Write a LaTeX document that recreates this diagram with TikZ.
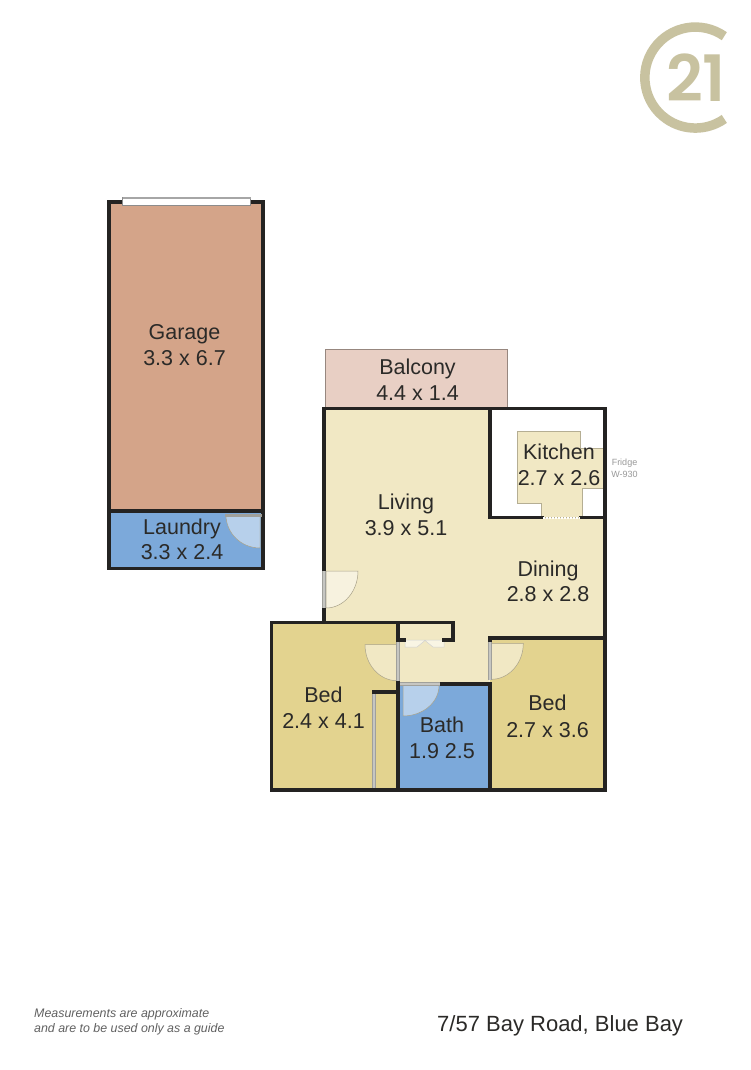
\documentclass[tikz,border=0pt]{standalone}
\usepackage{fontspec}
\setmainfont{Liberation Sans}
\newfontfamily\logofont[UprightFont={* SemiBold}]{Poppins}
\definecolor{wallc}{HTML}{242322}
\definecolor{livingc}{HTML}{F1E8C4}
\definecolor{bedc}{HTML}{E3D38F}
\definecolor{bathc}{HTML}{7CA9DA}
\definecolor{garagec}{HTML}{D4A489}
\definecolor{balconyc}{HTML}{E8CFC4}
\definecolor{logoc}{HTML}{C8C2A0}
\definecolor{txtc}{HTML}{2B2A28}
\definecolor{strip}{HTML}{A0A09B}
\definecolor{stripin}{HTML}{C6C6C2}
\tikzset{
  wall/.style={draw=wallc,line width=3.8pt,line cap=rect,line join=miter},
  doorstrip/.style={draw=strip,line width=0.9pt,double=stripin,double distance=1.9pt},
  doorleaf/.style={draw=black!30!livingc,line width=0.5pt,fill=#1},
  roomlabel/.style={font=\fontsize{21.5}{24}\selectfont,text=txtc,anchor=base,inner sep=0pt},
  smallgrey/.style={font=\fontsize{9}{10}\selectfont,text=black!40,anchor=base,inner sep=0pt},
  noteline/.style={font=\itshape\fontsize{12.4}{14}\selectfont,text=black!62,anchor=base west,inner sep=0pt}
}
\begin{document}
\begin{tikzpicture}[x=1pt,y=-1pt]
\useasboundingbox (0,0) rectangle (750,1070);
\fill[white] (0,0) rectangle (750,1070);

% logo
\draw[logoc,line width=9.5pt] (724.3,36.2) arc[start angle=-55,end angle=-305,radius=50.5];
\node[font=\logofont\fontsize{64}{64}\selectfont,text=logoc,anchor=base,inner sep=0pt] (logotext) at (696,102) {21};

% garage + laundry
\fill[garagec] (108.7,202) rectangle (263.3,511);
\fill[bathc] (108.7,511) rectangle (263.3,568.4);
\draw[doorleaf={bathc!55!white}] (226,515) -- (260,515) -- (260,548) arc[start angle=90,end angle=180,x radius=34,y radius=33];
\draw[wall] (108.7,202) rectangle (263.3,568.4);
\draw[wall] (108.7,511) -- (263.3,511);
\draw[strip,fill=strip] (225,514.5) rectangle (261,516.5);
\draw[draw=black!45,line width=0.8pt,fill=white] (122.7,197.6) rectangle (250.7,205.4);
\draw[draw=black!35,line width=1.5pt] (122.7,198) -- (250.7,198);

% balcony
\fill[balconyc,draw=black!35!balconyc,line width=0.8pt] (325.2,349.5) rectangle (507.7,407);

% main floors
\fill[livingc] (324,408.5) -- (489.7,408.5) -- (489.7,517.5) -- (605.3,517.5) -- (605.3,638) -- (489.7,638) -- (489.7,683.7) -- (398.3,683.7) -- (398.3,622.5) -- (324,622.5) -- cycle;
\fill[bedc] (271.5,622.5) -- (398.3,622.5) -- (398.3,790) -- (271.5,790) -- cycle;
\fill[bedc] (489.7,638) rectangle (605.3,790);
\fill[bathc] (398.3,683.7) rectangle (489.7,790);
\fill[white] (489.7,408.5) rectangle (605.3,517.5);
\draw[fill=livingc,draw=black!25!livingc,line width=0.6pt] (517.3,431) -- (580.7,431) -- (580.7,448.3) -- (603.5,448.3) -- (603.5,488.3) -- (582.7,488.3) -- (582.7,517) -- (541,517) -- (541,503.3) -- (517.3,503.3) -- cycle;

% door leaves
\draw[doorleaf={livingc!55!white}] (326,571) -- (358,571) arc[start angle=0,end angle=90,x radius=32,y radius=37] -- cycle;
\draw[doorleaf={livingc}] (397,644.7) -- (365,644.7) arc[start angle=180,end angle=90,x radius=32,y radius=36] -- cycle;
\draw[doorleaf={livingc}] (491.5,643.3) -- (523.3,643.3) arc[start angle=0,end angle=90,x radius=31.8,y radius=36] -- cycle;
\draw[doorleaf={bathc!55!white}] (403,685.5) -- (439,685.5) arc[start angle=0,end angle=90,x radius=36,y radius=30.5] -- cycle;
\draw[draw=black!18,line width=0.5pt,fill=livingc!45!white] (405,640) -- (444,640) -- (444,647) -- (433,647) -- (425,640.5) -- (417,647) -- (405,647) -- cycle;

% walls
\draw[wall] (324,570) -- (324,408.5) -- (605.3,408.5) -- (605.3,790) -- (271.5,790) -- (271.5,622.5) -- (453.3,622.5) -- (453.3,640) -- (444,640);
\draw[wall] (324,609) -- (324,622.5);
\draw[wall] (489.7,408.5) -- (489.7,517.5) -- (542,517.5);
\draw[wall] (581,517.5) -- (605.3,517.5);
\draw[wall] (398.3,622.5) -- (398.3,640) -- (404,640);
\draw[wall] (398.3,683) -- (398.3,790);
\draw[wall] (605.3,638) -- (489.7,638) -- (489.7,640);
\draw[wall] (440.5,683.7) -- (489.7,683.7) -- (489.7,790);
\draw[wall] (398.3,691.7) -- (373.8,691.7);

% openings
\draw[doorstrip] (324,571) -- (324,608);
\draw[doorstrip] (398.3,642) -- (398.3,681);
\draw[doorstrip] (489.7,642) -- (489.7,680);
\draw[doorstrip] (400,683.7) -- (440,683.7);
\draw[doorstrip] (373.8,694) -- (373.8,787.5);
\draw[white,line width=2pt,dash pattern=on 2pt off 1pt] (543,517.5) -- (580,517.5);

% labels
\node[roomlabel] (garage) at (184.5,339.5) {Garage};
\node[roomlabel] (garagedim) at (184.5,365.5) {3.3 x 6.7};
\node[roomlabel] (laundry) at (182,534) {Laundry};
\node[roomlabel] (laundrydim) at (182,559.5) {3.3 x 2.4};
\node[roomlabel] (balcony) at (417.5,374.5) {Balcony};
\node[roomlabel] (balconydim) at (417.5,400) {4.4 x 1.4};
\node[roomlabel] (kitchen) at (559,459.5) {Kitchen};
\node[roomlabel] (kitchendim) at (559,485.5) {2.7 x 2.6};
\node[roomlabel] (living) at (406,509) {Living};
\node[roomlabel] (livingdim) at (406,535) {3.9 x 5.1};
\node[roomlabel] (dining) at (548,576) {Dining};
\node[roomlabel] (diningdim) at (548,601) {2.8 x 2.8};
\node[roomlabel] (bedl) at (323.5,702) {Bed};
\node[roomlabel] (bedldim) at (323.5,728) {2.4 x 4.1};
\node[roomlabel] (bath) at (442,732) {Bath};
\node[roomlabel] (bathdim) at (442,758) {1.9 2.5};
\node[roomlabel] (bedr) at (547.5,710) {Bed};
\node[roomlabel] (bedrdim) at (547.5,737) {2.7 x 3.6};
\node[smallgrey] (fridge) at (624.5,465.5) {Fridge};
\node[smallgrey] (fridgew) at (624.5,477) {W-930};
\node[noteline] (note1) at (34,1017) {Measurements are approximate};
\node[noteline] (note2) at (34,1032.5) {and are to be used only as a guide};
\node[font=\fontsize{22}{24}\selectfont,text=txtc,anchor=base west,inner sep=0pt] (address) at (437,1031) {7/57 Bay Road, Blue Bay};
\end{tikzpicture}
\end{document}
